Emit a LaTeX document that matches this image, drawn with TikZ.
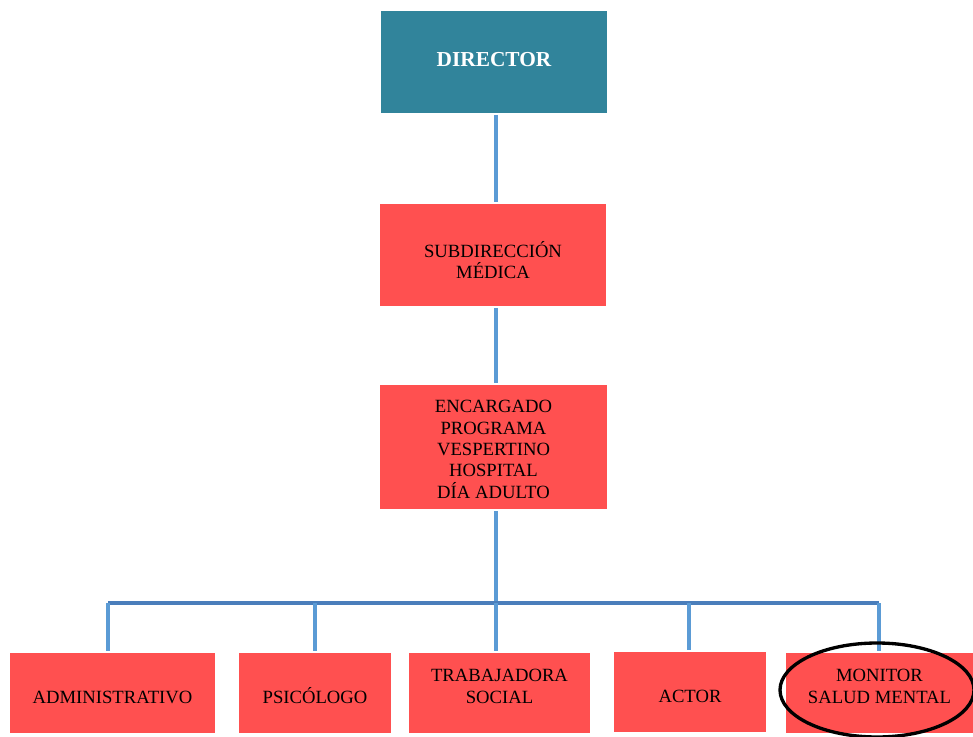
\documentclass[tikz,border=0pt]{standalone}
\usepackage{fontspec}
\setmainfont{Liberation Serif}
\usetikzlibrary{positioning}
\definecolor{dirteal}{HTML}{31849B}
\definecolor{boxred}{HTML}{FF5050}
\definecolor{linkblue}{HTML}{5B9BD5}
\definecolor{busblue}{HTML}{4A7EBB}

\begin{document}
\begin{tikzpicture}[x=0.75pt,y=-0.75pt,line width=3pt]
  \tikzstyle{box}=[rectangle,fill=boxred,draw=none,text=black,align=center,inner sep=0pt,text depth=0pt,font=\fontsize{14}{16}\selectfont]
  \tikzstyle{staff}=[box,minimum height=60pt,text height=15pt]
  \tikzstyle{link}=[draw=linkblue]
  \useasboundingbox (0,0) rectangle (973,737);

  \node[box,fill=dirteal,text=white,font=\fontsize{16}{19}\selectfont\bfseries,minimum width=169.5pt,minimum height=76.5pt,text height=7.5pt] (D) at (494,62) {DIRECTOR};
  \node[box,minimum width=169.5pt,minimum height=76.5pt,text height=35.25pt] (S) at (493,255) {SUBDIRECCIÓN\\MÉDICA};
  \node[box,minimum width=170.25pt,minimum height=93pt,text height=76.5pt] (E) at (493.5,447) {ENCARGADO\\PROGRAMA\\VESPERTINO\\HOSPITAL\\DÍA ADULTO};

  \node[staff,minimum width=153.75pt] (A) at (112.5,693) {ADMINISTRATIVO};
  \node[staff,minimum width=114pt] (P) at (315,693) {PSICÓLOGO};
  \node[staff,minimum width=135.75pt] (T) at (499.5,693) {TRABAJADORA\\SOCIAL};
  \node[staff,minimum width=114pt] (R) at (690,692) {ACTOR};
  \node[staff,minimum width=140.25pt] (M) at (879.5,693) {MONITOR\\SALUD MENTAL};

  \coordinate (bA) at (108,603);
  \coordinate (bP) at (315,603);
  \coordinate (bT) at (496,603);
  \coordinate (bR) at (689,603);
  \coordinate (bM) at (879,603);

  \draw[link] (D.south -| bT) -- (S.north -| bT)
        (S.south -| bT) -- (E.north -| bT)
        (E.south -| bT) -- (bT);
  \draw[busblue] (bA) -- (bM);
  \draw[link] (bA) -- (bA |- A.north)
        (bP) -- (bP |- P.north)
        (bT) -- (bT |- T.north)
        (bR) -- (bR |- R.north)
        (bM) -- (bM |- M.north);

  \draw[black,line width=2.5pt] (877,690) ellipse [x radius=97,y radius=47];
\end{tikzpicture}
\end{document}
